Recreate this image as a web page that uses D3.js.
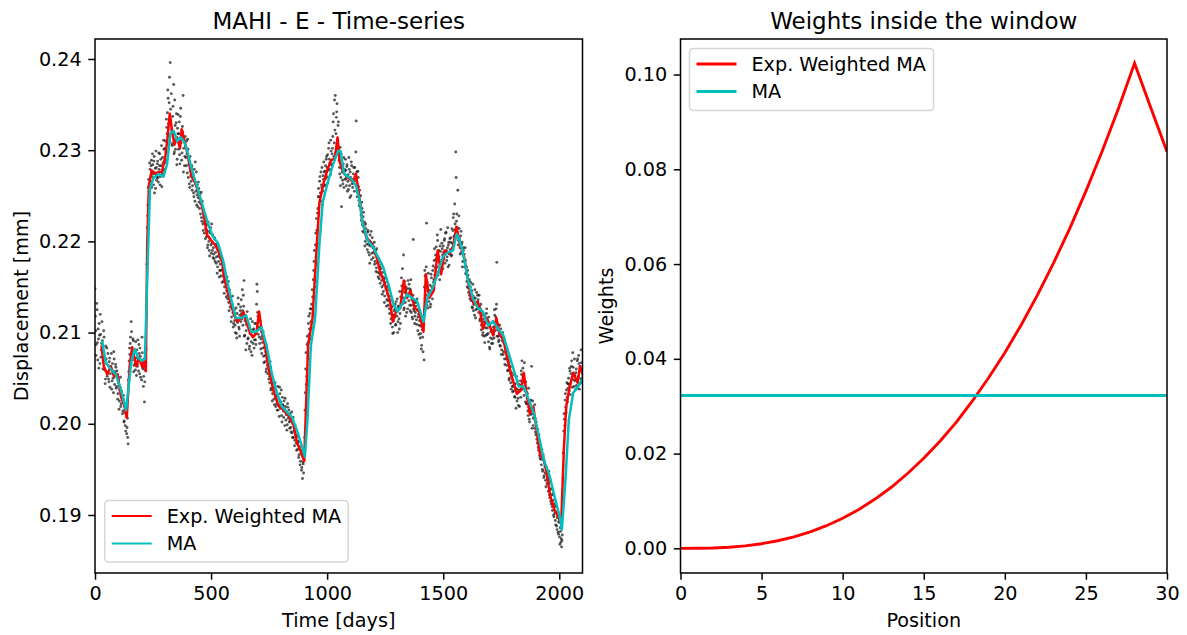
<!DOCTYPE html>
<html>
<head>
<meta charset="utf-8">
<script src="https://cdn.jsdelivr.net/npm/d3@7"></script>
<style>
  body { margin: 0; background: #fff; }
  svg text { font-family: "DejaVu Sans", sans-serif; fill: #000; }
</style>
</head>
<body>
<svg id="chart" width="1187" height="635"></svg>
<script>
// ---- data ----
// observations, one every obsStep days from day 0, values x 1e-4 mm
var obsStep = 3;
var obsDisp = [
  2148,2102,2087,2125,2070,2093,2110,2066,2098,2081, 2112,2078,2068,2095,2059,2049,2071,2083,2056,2064,
  2046,2072,2055,2061,2038,2066,2050,2079,2043,2057, 2062,2041,2054,2033,2048,2025,2040,2019,2036,2028,
  2014,2031,2003,2012,1992,2008,1996,1985,2048,2069, 2076,2095,2112,2083,2070,2091,2064,2078,2059,2072,
  2081,2063,2069,2087,2055,2074,2066,2048,2078,2060, 2052,2024,2071,2058,2130,2215,2240,2268,2255,2279,
  2266,2289,2271,2284,2262,2293,2275,2258,2281,2270, 2288,2265,2279,2296,2271,2283,2260,2292,2277,2301,
  2286,2310,2298,2325,2341,2357,2315,2380,2396,2333, 2322,2305,2348,2372,2298,2327,2312,2340,2290,2318,
  2301,2331,2285,2346,2314,2297,2320,2276,2309,2293, 2304,2283,2296,2312,2270,2288,2259,2277,2266,2283,
  2261,2274,2249,2266,2287,2255,2240,2262,2248,2258, 2236,2252,2241,2226,2244,2219,2232,2209,2227,2214,
  2205,2218,2196,2211,2190,2203,2215,2187,2198,2207, 2193,2181,2202,2188,2176,2195,2172,2184,2190,2168,
  2175,2162,2181,2169,2156,2174,2150,2165,2158,2146, 2152,2141,2133,2147,2128,2139,2117,2131,2122,2110,
  2125,2108,2116,2099,2121,2113,2131,2104,2119,2128, 2136,2115,2124,2141,2157,2097,2118,2102,2088,2111,
  2094,2108,2085,2101,2079,2097,2112,2088,2104,2092, 2099,2087,2131,2145,2118,2106,2095,2113,2082,2101,
  2096,2083,2074,2091,2068,2079,2060,2072,2055,2066, 2058,2045,2062,2039,2050,2033,2046,2027,2041,2030,
  2036,2022,2031,2015,2027,2040,2018,2024,2009,2029, 2020,2007,2016,2028,2004,2013,1999,2018,2009,2002,
  2011,1996,2004,1990,2000,1985,1997,1982,1993,1979, 1986,1972,1980,1966,1975,1959,1968,1952,1940,1956,
  1961,1985,2034,2078,2052,2096,2089,2118,2104,2126, 2112,2131,2147,2125,2168,2190,2161,2209,2225,2198,
  2236,2258,2249,2271,2244,2262,2281,2255,2268,2276, 2262,2283,2290,2271,2295,2278,2308,2286,2273,2299,
  2284,2302,2331,2293,2355,2360,2318,2342,2305,2327, 2296,2281,2303,2270,2238,2276,2263,2292,2279,2268,
  2278,2261,2284,2266,2257,2279,2248,2270,2287,2263, 2259,2274,2268,2281,2262,2332,2276,2253,2270,2245,
  2256,2238,2229,2243,2218,2227,2210,2221,2200,2214, 2203,2191,2212,2196,2185,2207,2199,2180,2204,2193,
  2188,2199,2178,2190,2171,2183,2166,2177,2159,2172, 2163,2175,2150,2166,2145,2158,2140,2155,2147,2136,
  2142,2130,2147,2121,2135,2115,2128,2106,2119,2100, 2117,2131,2109,2125,2137,2112,2128,2104,2121,2139,
  2160,2145,2132,2185,2127,2144,2118,2139,2148,2126, 2141,2153,2130,2147,2122,2136,2115,2202,2124,2110,
  2122,2133,2109,2125,2117,2098,2113,2094,2107,2086, 2103,2079,2108,2150,2162,2141,2220,2155,2127,2146,
  2139,2152,2131,2160,2144,2168,2155,2179,2163,2185, 2194,2172,2201,2166,2183,2158,2189,2176,2198,2185,
  2195,2181,2203,2188,2210,2179,2193,2172,2199,2186, 2191,2204,2185,2198,2212,2230,2206,2219,2298,2222,
  2208,2256,2201,2214,2193,2206,2188,2199,2178,2190, 2186,2172,2179,2164,2156,2168,2149,2157,2141,2150,
  2135,2146,2127,2140,2131,2119,2138,2125,2144,2130, 2136,2122,2129,2115,2131,2108,2119,2100,2112,2096,
  2118,2105,2121,2098,2112,2090,2108,2082,2094,2103, 2101,2088,2106,2094,2119,2110,2126,2177,2103,2096,
  2092,2108,2085,2099,2081,2094,2076,2089,2071,2083, 2078,2064,2073,2059,2067,2050,2062,2045,2056,2041,
  2048,2036,2043,2029,2039,2052,2025,2034,2020,2043, 2036,2047,2058,2069,2045,2052,2031,2040,2024,2035,
  2022,2033,2009,2018,2002,2015,2026,2063,2011,1998, 2014,1995,2006,1988,1997,1979,1986,1971,1980,1962,
  1969,1955,1964,1948,1960,1943,1953,1938,1949,1934, 1941,1926,1935,1919,1928,1912,1922,1905,1916,1898,
  1909,1894,1903,1888,1897,1881,1892,1876,1886,1870, 1865,1878,1940,1992,2005,2026,2018,2037,2029,2044,
  2050,2036,2058,2044,2063,2049,2078,2055,2041,2053, 2047,2060,2039,2071,2052,2066,2044,2058,2081,2050,
  2056
];
// second batch of observations, one every obsStep days from day obsStart2, values x 1e-4 mm
var obsStart2 = 1.5;
var obsDisp2 = [
  2118,2075,2132,2089,2104,2061,2097,2120,2073,2088, 2091,2060,2102,2072,2044,2085,2066,2052,2077,2049,
  2068,2040,2063,2077,2047,2058,2034,2071,2052,2065, 2039,2058,2027,2045,2016,2037,2051,2022,2030,2011,
  2027,2002,2020,1998,2015,1989,2006,1978,2057,2083, 2088,2069,2101,2074,2093,2057,2080,2066,2090,2053,
  2065,2092,2058,2077,2083,2051,2070,2095,2062,2041, 2068,2046,2059,2082,2175,2228,2259,2247,2286,2266,
  2283,2259,2296,2274,2288,2253,2280,2299,2267,2285, 2270,2297,2283,2262,2290,2305,2274,2286,2311,2279,
  2302,2289,2334,2318,2366,2329,2352,2310,2345,2362, 2307,2337,2319,2296,2355,2301,2330,2284,2324,2339,
  2318,2295,2337,2308,2289,2326,2360,2302,2283,2315, 2292,2310,2275,2301,2284,2263,2293,2272,2281,2256,
  2270,2253,2279,2244,2263,2276,2251,2238,2265,2243, 2247,2230,2254,2222,2238,2212,2229,2221,2203,2219,
  2212,2193,2221,2200,2184,2209,2196,2219,2190,2182, 2186,2204,2178,2197,2183,2165,2191,2178,2161,2182,
  2168,2183,2155,2177,2162,2143,2168,2157,2139,2161, 2137,2156,2124,2143,2134,2112,2126,2140,2106,2119,
  2113,2100,2127,2094,2111,2138,2106,2096,2124,2112, 2121,2147,2108,2129,2096,2113,2081,2109,2123,2093,
  2106,2082,2099,2115,2090,2075,2103,2096,2083,2110, 2092,2110,2153,2122,2098,2115,2088,2106,2093,2077,
  2089,2101,2067,2084,2075,2057,2080,2064,2072,2049, 2052,2068,2037,2055,2025,2044,2038,2021,2045,2019,
  2030,2015,2041,2021,2008,2033,2017,2037,2002,2021, 2014,2025,1998,2019,2010,1993,2022,2006,2015,1995,
  2003,1991,2013,1985,2007,1992,1976,1998,1987,1971, 1978,1988,1963,1981,1955,1971,1949,1965,1958,1946,
  1968,2015,2060,2043,2087,2072,2110,2098,2121,2093, 2126,2105,2139,2158,2178,2150,2196,2183,2212,2231,
  2249,2231,2266,2253,2276,2259,2240,2272,2287,2261, 2277,2269,2293,2281,2264,2302,2290,2279,2311,2284,
  2296,2315,2340,2308,2322,2297,2336,2351,2312,2331, 2289,2274,2261,2296,2280,2267,2285,2259,2277,2290,
  2269,2282,2255,2273,2292,2261,2276,2250,2283,2268, 2264,2281,2255,2270,2298,2266,2249,2277,2260,2239,
  2241,2250,2223,2236,2211,2232,2217,2195,2219,2206, 2197,2210,2188,2201,2176,2195,2211,2187,2197,2182,
  2194,2175,2186,2167,2192,2176,2161,2181,2165,2154, 2170,2157,2142,2161,2152,2133,2160,2149,2129,2150,
  2135,2151,2126,2140,2110,2129,2120,2099,2113,2124, 2126,2108,2134,2118,2100,2129,2115,2145,2110,2132,
  2151,2170,2138,2125,2156,2133,2150,2122,2142,2157, 2135,2148,2124,2158,2130,2117,2141,2126,2133,2118,
  2129,2114,2137,2102,2120,2108,2122,2099,2082,2112, 2095,2112,2070,2168,2146,2172,2130,2149,2165,2134,
  2146,2128,2164,2150,2137,2173,2158,2192,2171,2180, 2181,2207,2163,2190,2171,2195,2213,2179,2192,2170,
  2188,2201,2176,2209,2190,2183,2215,2196,2174,2203, 2199,2184,2214,2193,2226,2205,2241,2213,2270,2230,
  2215,2196,2228,2203,2186,2211,2197,2172,2193,2184, 2178,2193,2165,2172,2150,2163,2144,2158,2137,2155,
  2142,2128,2153,2124,2137,2147,2116,2133,2126,2141, 2128,2141,2113,2126,2103,2122,2097,2115,2106,2089,
  2111,2097,2126,2105,2099,2117,2084,2110,2101,2088, 2093,2112,2098,2125,2102,2117,2131,2096,2109,2090,
  2099,2086,2104,2076,2091,2100,2079,2093,2065,2085, 2071,2082,2058,2070,2048,2063,2055,2038,2052,2035,
  2041,2054,2030,2044,2017,2038,2047,2028,2037,2019, 2042,2029,2054,2038,2061,2041,2067,2036,2046,2022,
  2028,2014,2039,2005,2023,2010,2017,1995,2025,2006, 2008,2021,1991,2002,1983,1994,1974,1988,1965,1977,
  1961,1972,1950,1966,1941,1957,1946,1931,1952,1940, 1936,1948,1922,1938,1915,1929,1909,1923,1900,1912,
  1902,1889,1910,1884,1899,1879,1893,1868,1882,1874, 1872,1905,1968,2011,1998,2033,2012,2045,2024,2039,
  2043,2061,2032,2055,2069,2040,2062,2048,2071,2037, 2056,2042,2069,2050,2075,2038,2063,2049,2067,2045
];

// exponentially weighted moving average (red)
var ewmaDays = [28,38,53,68,82,97,112,126,137,149,160,171,178,190,204,212,219,225,232,244,259,273,288,303,313,322,
  332,342,354,366,373,386,401,416,430,445,457,469,483,501,518,533,548,556,578,600,614,629,639,651,666,680,695,707,
  717,732,746,768,790,812,834,854,871,889,901,908,918,937,956,967,986,1003,1018,1033,1045,1054,1073,1095,1112,1124,
  1136,1150,1168,1190,1209,1227,1249,1271,1283,1297,1315,1330,1344,1359,1377,1396,1415,1425,1440,1459,1476,1491,
  1506,1528,1542,1557,1571,1590,1605,1619,1634,1649,1659,1671,1688,1700,1715,1729,1744,1759,1773,1795,1817,1835,
  1847,1861,1873,1888,1903,1917,1932,1947,1961,1979,1994,2008,2020,2030,2045,2060,2079,2089,2104];
var ewmaDisp = [.2086,.2063,.2054,.2063,.2052,.2054,.2030,.2020,.2007,.2063,.2084,.2071,.2063,.2073,.2062,.2071,.2058,
  .2198,.2261,.2278,.2274,.2276,.2276,.2293,.2315,.2340,.2321,.2306,.2314,.2302,.2323,.2310,.2293,.2271,.2265,.2254,
  .2243,.2228,.2207,.2201,.2196,.2188,.2177,.2160,.2138,.2119,.2112,.2116,.2123,.2112,.2101,.2095,.2099,.2123,.2104,
  .2086,.2063,.2037,.2020,.2015,.2009,.2000,.1979,.1968,.1959,.2011,.2086,.2116,.2198,.2243,.2265,.2280,.2289,.2291,
  .2314,.2287,.2274,.2269,.2265,.2274,.2254,.2224,.2205,.2198,.2187,.2168,.2153,.2134,.2112,.2123,.2127,.2157,.2138,
  .2146,.2127,.2123,.2101,.2164,.2138,.2146,.2190,.2164,.2190,.2187,.2194,.2216,.2198,.2183,.2160,.2138,.2131,.2134,
  .2123,.2104,.2116,.2108,.2097,.2116,.2097,.2093,.2075,.2052,.2033,.2037,.2056,.2030,.2011,.2019,.1992,.1966,.1963,
  .1944,.1921,.1906,.1899,.1890,.1974,.2019,.2041,.2056,.2045,.2063,.2052];

// plain moving average (cyan)
var maDays = [31,46,68,90,112,134,156,171,185,200,215,225,237,251,273,295,310,325,339,354,369,383,398,420,442,464,486,
  508,530,552,563,585,607,629,651,673,695,717,739,761,783,805,827,849,871,893,904,915,930,948,967,981,1003,1025,1047,
  1058,1073,1102,1124,1139,1153,1175,1197,1219,1241,1264,1286,1303,1322,1344,1366,1388,1415,1432,1454,1476,1498,1520,
  1542,1558,1568,1583,1605,1627,1649,1671,1693,1715,1737,1759,1781,1803,1825,1847,1869,1891,1913,1935,1957,1979,2001,
  2011,2026,2041,2060,2082,2104];
var maDisp = [.2091,.2067,.2060,.2054,.2037,.2015,.2067,.2082,.2073,.2069,.2071,.2160,.2258,.2269,.2274,.2271,.2284,
  .2319,.2321,.2310,.2314,.2310,.2299,.2276,.2258,.2239,.2220,.2205,.2198,.2179,.2164,.2138,.2116,.2116,.2119,.2101,
  .2101,.2106,.2086,.2056,.2034,.2019,.2013,.2007,.1992,.1974,.1964,.2004,.2086,.2116,.2198,.2243,.2265,.2284,.2299,
  .2299,.2274,.2269,.2261,.2246,.2220,.2201,.2194,.2183,.2172,.2153,.2131,.2123,.2131,.2142,.2138,.2134,.2112,.2138,
  .2149,.2164,.2183,.2188,.2190,.2208,.2203,.2190,.2160,.2138,.2127,.2123,.2108,.2112,.2104,.2097,.2078,.2060,.2041,
  .2041,.2026,.2011,.1985,.1959,.1944,.1921,.1899,.1884,.1936,.2004,.2034,.2041,.2052];

// weights inside the 31-sample window
var weightPos = [0,1,2,3,4,5,6,7,8,9,10,11,12,13,14,15,16,17,18,19,20,21,22,23,24,25,26,27,28,29,30];
var ewmaWeights = [0,.0000126,.0000823,.000246,.000535,.000978,.0016,.00243,.00348,.00478,.00635,.00822,.0104,.0129,
  .0158,.0190,.0226,.0266,.0311,.0360,.0413,.0471,.0534,.0602,.0675,.0754,.0838,.0928,.1024,.0930,.0837];
var maWeightPos = [0, 30];
var maWeights = [0.03226, 0.03226];

var leftXTicks = [0, 500, 1000, 1500, 2000];
var leftYTicks = [0.19, 0.20, 0.21, 0.22, 0.23, 0.24];
var rightXTicks = [0, 5, 10, 15, 20, 25, 30];
var rightYTicks = [0, 0.02, 0.04, 0.06, 0.08, 0.10];

(function() {
  // ---- layout ----
  var svg = d3.select("#chart");
  var plotTop = 39, plotBottom = 573;
  var RED = "#ff0000", CYAN = "#00bfbf";
  var fs = 19.2, titleFs = 23;
  var tickLen = 6.7;

  var lx = d3.scaleLinear().domain([0, 2100]).range([95, 582.5]);
  var ly = d3.scaleLinear().domain([0.18364, 0.24219]).range([plotBottom, plotTop]);
  var rx = d3.scaleLinear().domain([0, 30]).range([680.5, 1167]);
  var ry = d3.scaleLinear().domain([-0.0052, 0.1075]).range([plotBottom, plotTop]);

  function drawAxes(x, y, xTicks, yTicks, xFmt, yFmt) {
    var gx = svg.append("g").attr("transform", "translate(0," + plotBottom + ")")
      .call(d3.axisBottom(x).tickValues(xTicks).tickFormat(xFmt).tickSize(tickLen).tickPadding(tickLen).tickSizeOuter(0));
    var gy = svg.append("g").attr("transform", "translate(" + x.range()[0] + ",0)")
      .call(d3.axisLeft(y).tickValues(yTicks).tickFormat(yFmt).tickSize(tickLen).tickPadding(tickLen).tickSizeOuter(0));
    [gx, gy].forEach(function(g) {
      g.select(".domain").remove();
      g.attr("font-family", null).attr("font-size", null);
      g.selectAll(".tick line").attr("stroke", "#000").attr("stroke-width", 1.5);
      g.selectAll(".tick text").style("font-size", fs + "px");
    });
    svg.append("rect")
      .attr("x", x.range()[0]).attr("y", plotTop)
      .attr("width", x.range()[1] - x.range()[0]).attr("height", plotBottom - plotTop)
      .attr("fill", "none").attr("stroke", "#000").attr("stroke-width", 1.5);
  }

  function clipFor(id, x) {
    svg.append("clipPath").attr("id", id).append("rect")
      .attr("x", x.range()[0]).attr("y", plotTop)
      .attr("width", x.range()[1] - x.range()[0]).attr("height", plotBottom - plotTop);
    return "url(#" + id + ")";
  }

  function legend(x0, y0, w, h, lineW) {
    var g = svg.append("g");
    g.append("rect").attr("x", x0).attr("y", y0).attr("width", w).attr("height", h)
      .attr("rx", 3.8).attr("fill", "#fff").attr("fill-opacity", 0.8)
      .attr("stroke", "#d6d6d6").attr("stroke-width", 1.5);
    var items = [["Exp. Weighted MA", RED], ["MA", CYAN]];
    items.forEach(function(it, i) {
      var cy = y0 + 15.5 + i * 27.5;
      g.append("line").attr("x1", x0 + 7).attr("x2", x0 + 47).attr("y1", cy).attr("y2", cy)
        .attr("stroke", it[1]).attr("stroke-width", lineW);
      g.append("text").attr("x", x0 + 62).attr("y", cy).attr("dy", "0.36em")
        .style("font-size", fs + "px").text(it[0]);
    });
  }

  // ---- left panel: time-series ----
  var clipL = clipFor("clipL", lx);
  var obs = obsDisp.map(function(v, i) { return { t: i * obsStep, v: v / 10000 }; })
    .concat(obsDisp2.map(function(v, i) { return { t: obsStart2 + i * obsStep, v: v / 10000 }; }));
  svg.append("g").attr("clip-path", clipL).selectAll("circle").data(obs).enter().append("circle")
    .attr("cx", function(d) { return lx(d.t); })
    .attr("cy", function(d) { return ly(d.v); })
    .attr("r", 1.45).attr("fill", "#111").attr("fill-opacity", 0.7);

  var lineL = d3.line().x(function(d) { return lx(d[0]); }).y(function(d) { return ly(d[1]); });
  svg.append("path").attr("clip-path", clipL)
    .attr("d", lineL(d3.zip(ewmaDays, ewmaDisp)))
    .attr("fill", "none").attr("stroke", RED).attr("stroke-width", 2.5).attr("stroke-linejoin", "round");
  svg.append("path").attr("clip-path", clipL)
    .attr("d", lineL(d3.zip(maDays, maDisp)))
    .attr("fill", "none").attr("stroke", CYAN).attr("stroke-width", 2.5).attr("stroke-linejoin", "round");

  drawAxes(lx, ly, leftXTicks, leftYTicks, d3.format("d"), d3.format(".2f"));
  legend(104.7, 500.5, 243.5, 61.5, 1.9);

  var lMid = (lx.range()[0] + lx.range()[1]) / 2;
  svg.append("text").attr("x", lMid).attr("y", 28.5)
    .attr("text-anchor", "middle").style("font-size", titleFs + "px").text("MAHI - E - Time-series");
  svg.append("text").attr("x", lMid).attr("y", 627)
    .attr("text-anchor", "middle").style("font-size", fs + "px").text("Time [days]");
  svg.append("text").attr("transform", "translate(28," + (plotTop + plotBottom) / 2 + ") rotate(-90)")
    .attr("text-anchor", "middle").style("font-size", fs + "px").text("Displacement [mm]");

  // ---- right panel: weights ----
  var clipR = clipFor("clipR", rx);
  var lineR = d3.line().x(function(d) { return rx(d[0]); }).y(function(d) { return ry(d[1]); });
  svg.append("path").attr("clip-path", clipR)
    .attr("d", lineR(d3.zip(weightPos, ewmaWeights)))
    .attr("fill", "none").attr("stroke", RED).attr("stroke-width", 2.9);
  svg.append("path").attr("clip-path", clipR)
    .attr("d", lineR(d3.zip(maWeightPos, maWeights)))
    .attr("fill", "none").attr("stroke", CYAN).attr("stroke-width", 2.9);

  drawAxes(rx, ry, rightXTicks, rightYTicks, d3.format("d"), d3.format(".2f"));
  legend(689.5, 48.5, 244, 62, 2.9);

  var rMid = (rx.range()[0] + rx.range()[1]) / 2;
  svg.append("text").attr("x", rMid).attr("y", 28.5)
    .attr("text-anchor", "middle").style("font-size", titleFs + "px").text("Weights inside the window");
  svg.append("text").attr("x", rMid).attr("y", 627)
    .attr("text-anchor", "middle").style("font-size", fs + "px").text("Position");
  svg.append("text").attr("transform", "translate(613," + (plotTop + plotBottom) / 2 + ") rotate(-90)")
    .attr("text-anchor", "middle").style("font-size", fs + "px").text("Weights");
})();
</script>
</body>
</html>
